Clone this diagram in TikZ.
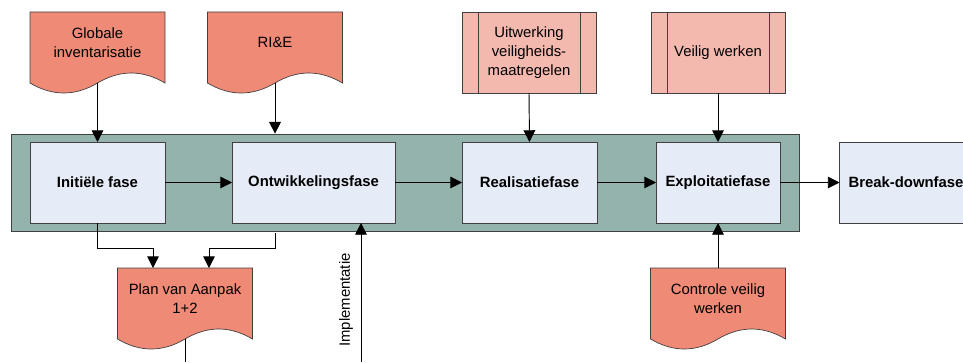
\documentclass[tikz,border=0pt]{standalone}
\usepackage{fontspec}
\setmainfont{Liberation Sans}
\usetikzlibrary{positioning,arrows.meta,fit,backgrounds}

\definecolor{docred}{HTML}{EF8A76}
\definecolor{procred}{HTML}{F4B9AE}
\definecolor{bandgreen}{HTML}{95B3AD}
\definecolor{phasefill}{HTML}{E6ECF7}
\definecolor{edgegray}{HTML}{404040}

% wavy document outline round a docbox node
\newcommand\docshape[1]{%
  \filldraw[fill=docred, draw=edgegray, line width=0.6pt]
    ([yshift=-3mm]#1.south west) -- (#1.north west) -- (#1.north east) -- ([yshift=-3mm]#1.south east)
    .. controls ([xshift=-6.75mm,yshift=1mm]#1.south east) and ([xshift=6.75mm,yshift=1mm]#1.south) .. ([yshift=-3mm]#1.south)
    .. controls ([xshift=-6.75mm,yshift=-7mm]#1.south) and ([xshift=6.75mm,yshift=-7mm]#1.south west) .. cycle;}

\begin{document}
\begin{tikzpicture}[
      x=0.3mm, y=-0.3mm,
      /tikz/font=\fontsize{12.7}{16}\selectfont,
      phasebox/.style={draw=edgegray, fill=phasefill, line width=0.6pt, minimum height=24.3mm,
        font=\fontsize{12.7}{16}\selectfont\bfseries, outer sep=0pt},
      docbox/.style={minimum width=40.5mm, minimum height=18.3mm, align=center, outer sep=0pt},
      procbox/.style={draw=edgegray, fill=procred, line width=0.6pt, minimum width=40.2mm,
        minimum height=24.3mm, align=center, outer sep=0pt,
        path picture={\draw[edgegray, line width=0.6pt]
          ([xshift=4.8mm]path picture bounding box.north west) -- ([xshift=4.8mm]path picture bounding box.south west)
          ([xshift=-4.8mm]path picture bounding box.north east) -- ([xshift=-4.8mm]path picture bounding box.south east);}},
      thinarr/.style={-{Triangle[length=10pt,width=10pt]}, line width=0.8pt},
    ]
    \clip (0,0) rectangle (963,362);

    % phases
    \node[phasebox, minimum width=40.5mm] (init) at (97.5,182.5) {Initiële fase};
    \node[phasebox, minimum width=48.9mm] (ontw) at (313.5,182.5) {Ontwikkelingsfase};
    \node[phasebox, minimum width=40.5mm] (real) at (529.5,182.5) {Realisatiefase};
    \node[phasebox, minimum width=37.2mm] (expl) at (718,182.5) {Exploitatiefase};
    \node[phasebox, minimum width=39.9mm] (brk) at (906,182.5) {Break-downfase};

    % inputs above
    \node[docbox] (glob) at (97.5,42.5) {Globale\\inventarisatie};
    \node[docbox] (rie) at (275,42.5) {RI\&E};
    \node[procbox] (uitw) at (529,52.5) {Uitwerking\\veiligheids-\\maatregelen};
    \node[procbox] (veil) at (718,52.5) {Veilig werken};

    % outputs below
    \node[docbox] (plan) at (185,298.5) {Plan van Aanpak\\1+2};
    \node[docbox] (contr) at (718,298.5) {Controle veilig\\werken};
    \node[rotate=90] (impllbl) at (346,300) {Implementatie};
    \coordinate (implbase) at (361,362);
    \coordinate (planbase) at (185,362);

    \begin{scope}[on background layer]
      \node[fit=(init)(expl), inner xsep=5.7mm, inner ysep=2.4mm, fill=bandgreen,
        draw=edgegray, line width=0.6pt] (band) {};
      \docshape{glob}
      \docshape{rie}
      \docshape{plan}
      \docshape{contr}
    \end{scope}

    \draw[thinarr] (init) -- (ontw);
    \draw[thinarr] (ontw) -- (real);
    \draw[thinarr] (real) -- (expl);
    \draw[thinarr] (expl) -- (brk);

    \draw[thinarr] ([yshift=-3mm]glob.south) -- (init.north);
    \draw[thinarr] ([yshift=-3mm]rie.south) -- (band.north -| rie.south);
    \draw[thinarr] (uitw.south) -- (real.north);
    \draw[thinarr] (veil.south) -- (expl.north);
    \draw[thinarr] (contr.north) -- (expl.south);

    \draw[thinarr] (init.south) -- ++(0,25) -| ([xshift=-9.6mm]plan.north);
    \draw[thinarr] ([yshift=-0.6mm]band.south -| rie.south) -- ++(0,15) -| ([xshift=7.2mm]plan.north);
    \draw[thinarr] (implbase) -- (ontw.south -| implbase);
    \draw[line width=0.8pt] ([yshift=-3mm]plan.south) -- (planbase);
  \end{tikzpicture}
\end{document}
